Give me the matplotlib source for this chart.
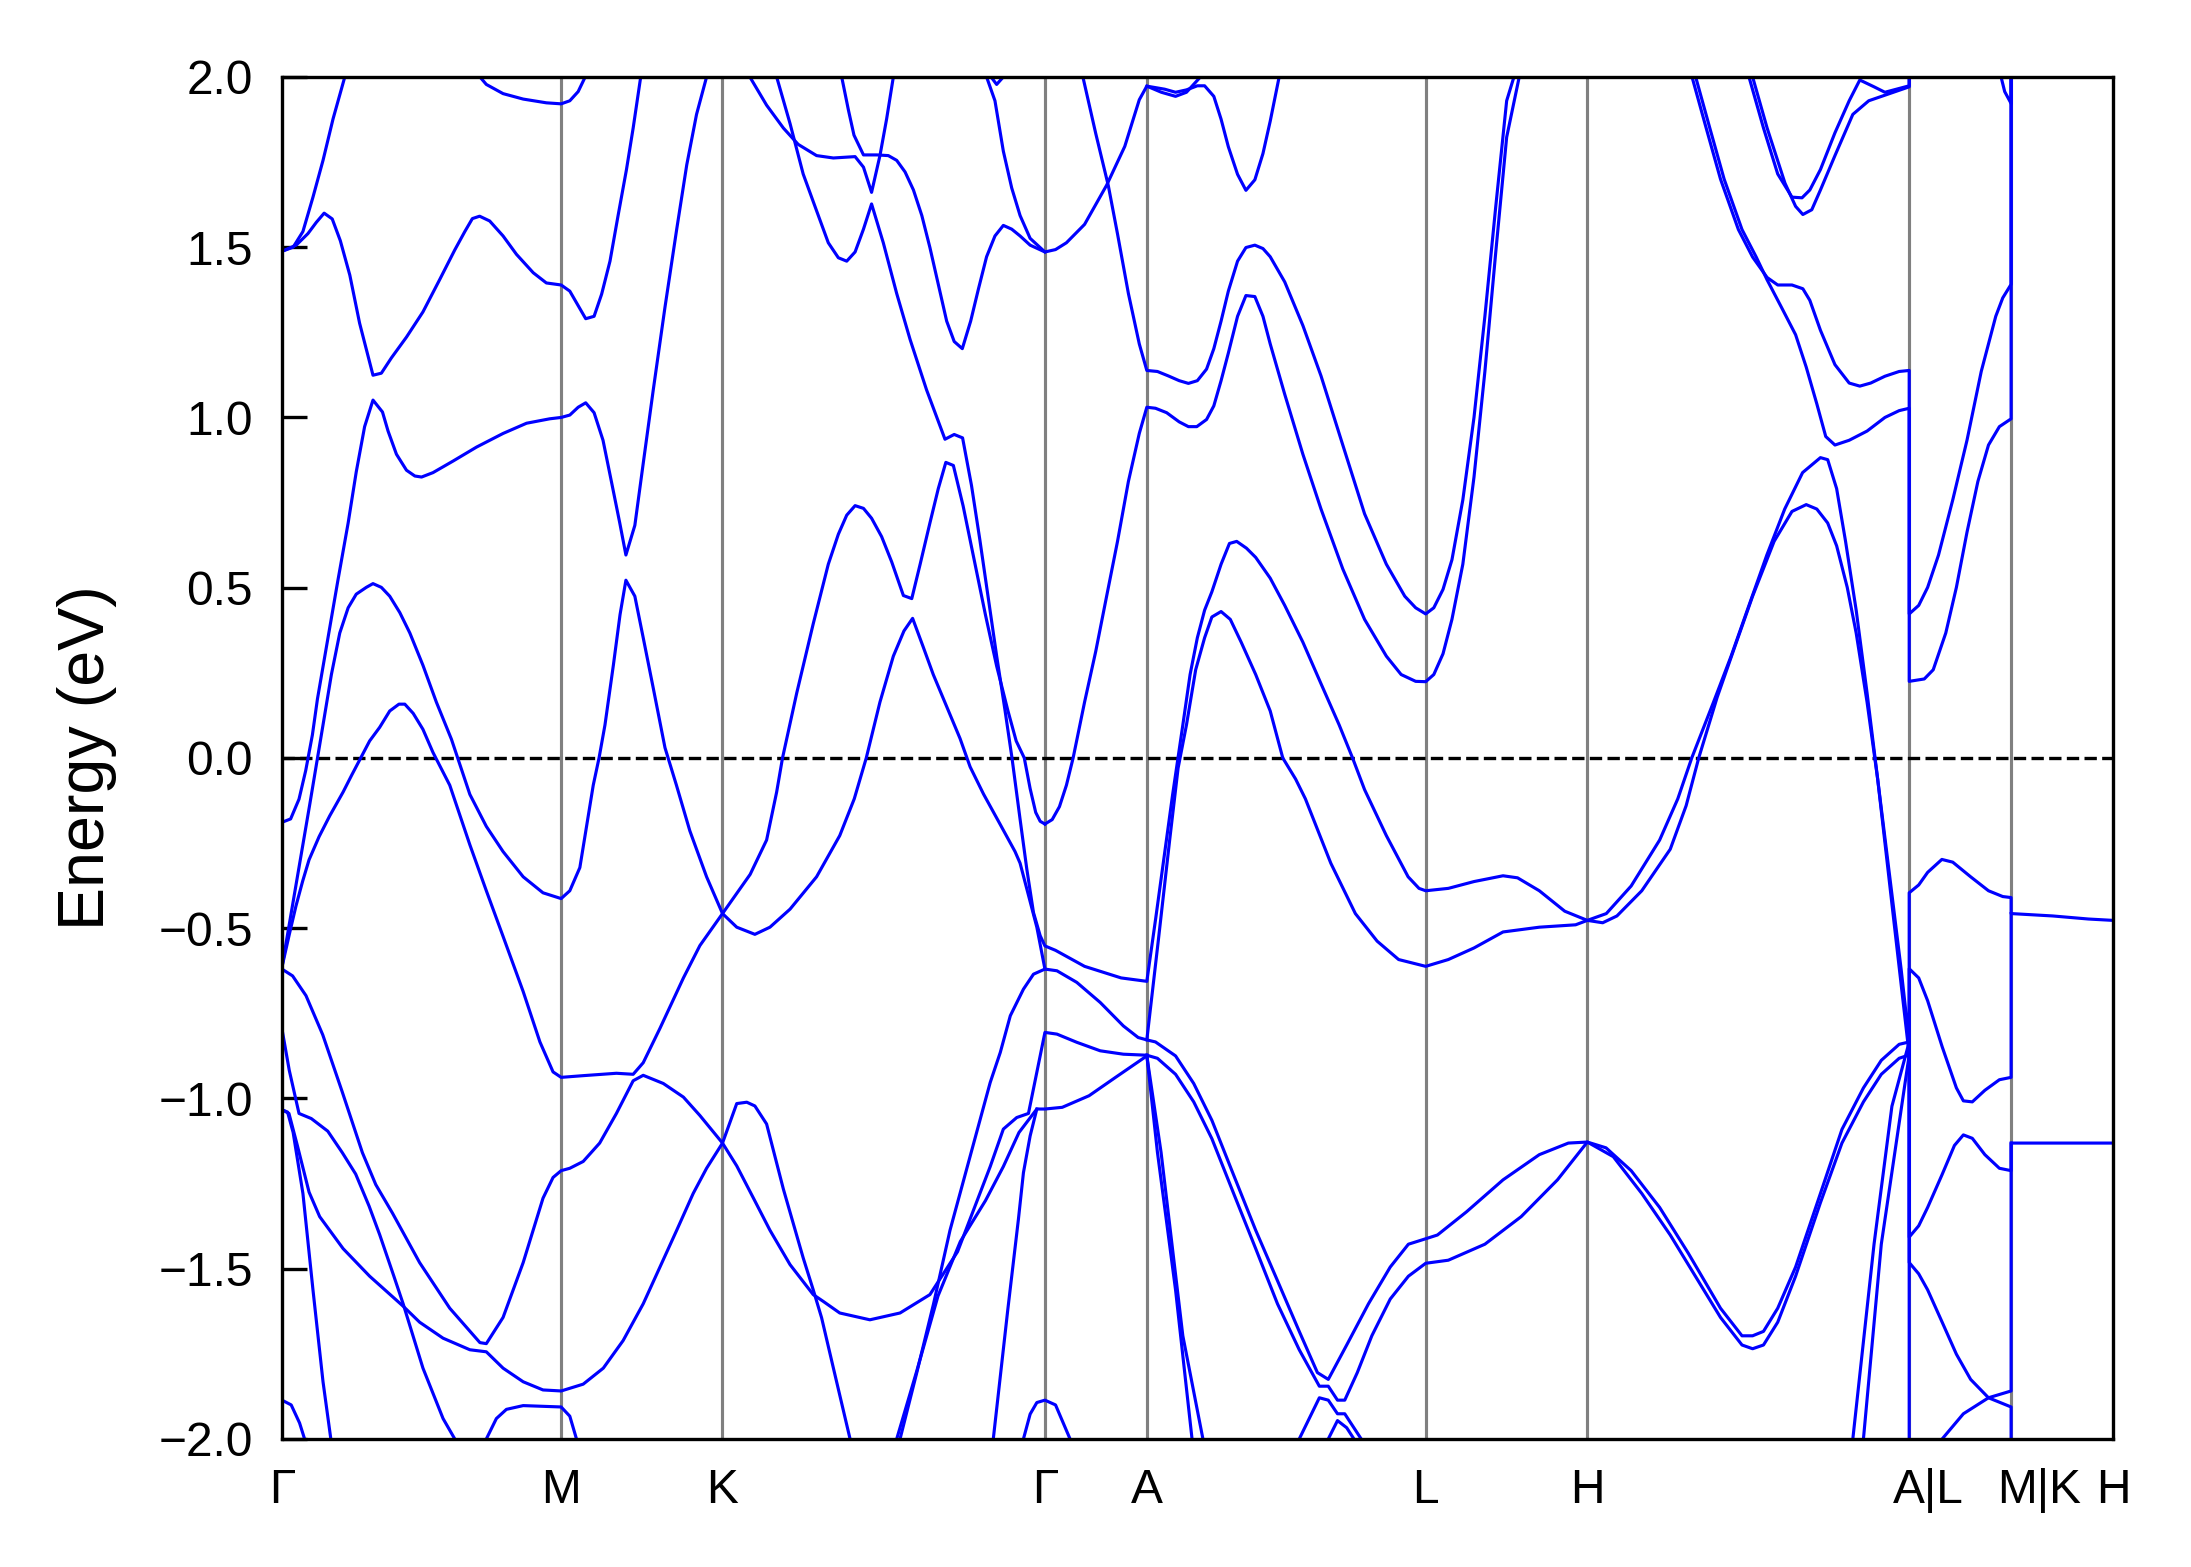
import matplotlib
matplotlib.use("Agg")
import matplotlib.pyplot as plt

plt.rcParams["font.family"] = ["Liberation Sans", "DejaVu Sans"]

# high-symmetry points along the path (Gamma-M = 1)
kpoint_pos = [0.0, 1.0, 1.578, 2.733, 3.098, 4.097, 4.676, 5.829, 6.194, 6.559]
kpoint_labels = ["Γ", "M", "K", "Γ", "A", "L", "H", "A|L", "M|K", "H"]
label_pos = [0.0, 1.0, 1.578, 2.733, 3.098, 4.097, 4.676, 5.897, 6.294, 6.559]
energy_ticks = [-2.0, -1.5, -1.0, -0.5, 0.0, 0.5, 1.0, 1.5, 2.0]

# bands, (k, E in eV)
band_01 = [(0.0, 1.488), (0.04, 1.50), (0.075, 1.546), (0.111, 1.647), (0.147, 1.755), (0.183, 1.877), (0.225, 2.0)]
band_02 = [(0.0, 1.488), (0.051, 1.506), (0.093, 1.54), (0.123, 1.573), (0.151, 1.600), (0.180, 1.583), (0.209, 1.519),
           (0.243, 1.418), (0.278, 1.277), (0.326, 1.124), (0.356, 1.130), (0.392, 1.175), (0.446, 1.236), (0.505, 1.310),
           (0.565, 1.405), (0.619, 1.492), (0.655, 1.546), (0.682, 1.584), (0.708, 1.591), (0.744, 1.577), (0.792, 1.533),
           (0.840, 1.479), (0.900, 1.425), (0.947, 1.395), (1.0, 1.389), (1.031, 1.371), (1.088, 1.290), (1.118, 1.297),
           (1.145, 1.362), (1.175, 1.459), (1.204, 1.593), (1.234, 1.728), (1.258, 1.850), (1.285, 2.0)]
band_03 = [(0.0, -0.189), (0.031, -0.179), (0.061, -0.121), (0.085, -0.037), (0.109, 0.068), (0.127, 0.173), (0.16, 0.33),
           (0.2, 0.52), (0.237, 0.69), (0.266, 0.84), (0.296, 0.973), (0.326, 1.051), (0.36, 1.016), (0.38, 0.96),
           (0.41, 0.892), (0.446, 0.845), (0.476, 0.828), (0.5, 0.825), (0.541, 0.838), (0.613, 0.872), (0.697, 0.913),
           (0.792, 0.953), (0.876, 0.983), (0.959, 0.996), (1.0, 1.0), (1.031, 1.007), (1.061, 1.03), (1.088, 1.043),
           (1.118, 1.014), (1.15, 0.933), (1.18, 0.812), (1.21, 0.69), (1.232, 0.596), (1.264, 0.683), (1.294, 0.865),
           (1.330, 1.081), (1.372, 1.324), (1.414, 1.553), (1.45, 1.742), (1.485, 1.89), (1.521, 2.0)]
band_04 = [(0.0, -0.614), (0.05, -0.374), (0.1, -0.134), (0.147, 0.097), (0.177, 0.245), (0.207, 0.367), (0.237, 0.441),
           (0.266, 0.481), (0.302, 0.501), (0.326, 0.512), (0.356, 0.501), (0.386, 0.475), (0.422, 0.427), (0.458, 0.367),
           (0.505, 0.272), (0.553, 0.164), (0.607, 0.055), (0.673, -0.107), (0.732, -0.201), (0.792, -0.275),
           (0.864, -0.349), (0.935, -0.396), (1.0, -0.413), (1.031, -0.39), (1.067, -0.322), (1.091, -0.201),
           (1.115, -0.08), (1.136, 0.001), (1.157, 0.097), (1.187, 0.272), (1.211, 0.421), (1.232, 0.522), (1.264, 0.475),
           (1.294, 0.353), (1.330, 0.205), (1.372, 0.030), (1.413, -0.08), (1.461, -0.214), (1.521, -0.349),
           (1.578, -0.457), (1.629, -0.497), (1.694, -0.518), (1.748, -0.497), (1.820, -0.444), (1.915, -0.349),
           (1.998, -0.228), (2.05, -0.12), (2.093, 0.0), (2.142, 0.164), (2.190, 0.299), (2.228, 0.373), (2.259, 0.41),
           (2.297, 0.326), (2.333, 0.245), (2.381, 0.151), (2.429, 0.057), (2.465, -0.026), (2.513, -0.106),
           (2.572, -0.194), (2.626, -0.275), (2.644, -0.309), (2.674, -0.403), (2.704, -0.497), (2.733, -0.62)]
band_05 = [(0.0, -0.614), (0.026, -0.519), (0.05, -0.435), (0.074, -0.362), (0.097, -0.299), (0.133, -0.231),
           (0.171, -0.17), (0.219, -0.1), (0.25, -0.05), (0.282, 0.0), (0.314, 0.05), (0.35, 0.09), (0.386, 0.138),
           (0.419, 0.158), (0.44, 0.158), (0.47, 0.131), (0.505, 0.084), (0.541, 0.016), (0.601, -0.08), (0.673, -0.255),
           (0.732, -0.39), (0.792, -0.524), (0.864, -0.686), (0.924, -0.834), (0.971, -0.922), (1.0, -0.938),
           (1.079, -0.933), (1.198, -0.926), (1.258, -0.929), (1.294, -0.895), (1.354, -0.794), (1.438, -0.646),
           (1.497, -0.551), (1.578, -0.457), (1.677, -0.342), (1.736, -0.241), (1.772, -0.1), (1.793, 0.0),
           (1.844, 0.191), (1.903, 0.394), (1.957, 0.569), (1.993, 0.657), (2.023, 0.713), (2.053, 0.741), (2.083, 0.733),
           (2.112, 0.704), (2.148, 0.650), (2.184, 0.576), (2.226, 0.477), (2.256, 0.468), (2.286, 0.569), (2.321, 0.690),
           (2.351, 0.791), (2.378, 0.868), (2.405, 0.859), (2.44, 0.74), (2.48, 0.58), (2.52, 0.42), (2.56, 0.27),
           (2.60, 0.14), (2.63, 0.05), (2.659, 0.0), (2.68, -0.09), (2.70, -0.16), (2.716, -0.186), (2.733, -0.194)]
band_06 = [(0.709, 2.0), (0.732, 1.978), (0.792, 1.951), (0.864, 1.935), (0.947, 1.924), (1.0, 1.921), (1.031, 1.930),
           (1.061, 1.957), (1.085, 1.998)]
band_07 = [(0.0, -0.62), (0.038, -0.640), (0.086, -0.698), (0.146, -0.813), (0.216, -0.981), (0.288, -1.159),
           (0.336, -1.253), (0.396, -1.337), (0.493, -1.482), (0.601, -1.616), (0.709, -1.717), (0.732, -1.72),
           (0.792, -1.643), (0.864, -1.482), (0.935, -1.293), (0.971, -1.232), (1.0, -1.212), (1.031, -1.205),
           (1.079, -1.185), (1.138, -1.131), (1.198, -1.044), (1.258, -0.948), (1.294, -0.932), (1.366, -0.956),
           (1.438, -0.996), (1.497, -1.050), (1.578, -1.131), (1.629, -1.015), (1.665, -1.011), (1.694, -1.022),
           (1.736, -1.075), (1.796, -1.266), (1.867, -1.468), (1.903, -1.562), (1.933, -1.644), (1.975, -1.791),
           (2.035, -2.0)]
band_08 = [(0.0, -0.796), (0.026, -0.917), (0.061, -1.044), (0.105, -1.059), (0.164, -1.096), (0.216, -1.159),
           (0.264, -1.222), (0.312, -1.316), (0.35, -1.40), (0.40, -1.52), (0.434, -1.603), (0.505, -1.792),
           (0.577, -1.940), (0.619, -2.0)]
band_09 = [(0.0, -1.033), (0.02, -1.04), (0.04, -1.1), (0.075, -1.279), (0.111, -1.562), (0.147, -1.832), (0.175, -2.0)]
band_10 = [(0.0, -1.033), (0.025, -1.044), (0.055, -1.138), (0.097, -1.275), (0.135, -1.347), (0.219, -1.441),
           (0.314, -1.522), (0.434, -1.610), (0.493, -1.657), (0.577, -1.704), (0.673, -1.738), (0.732, -1.744),
           (0.792, -1.792), (0.864, -1.832), (0.935, -1.856), (1.0, -1.859), (1.079, -1.839), (1.151, -1.792),
           (1.222, -1.711), (1.294, -1.603), (1.354, -1.495), (1.414, -1.387), (1.473, -1.279), (1.521, -1.205),
           (1.578, -1.131), (1.629, -1.198), (1.689, -1.293), (1.748, -1.387), (1.820, -1.488), (1.903, -1.576),
           (1.939, -1.596), (1.998, -1.630), (2.106, -1.650), (2.214, -1.630), (2.321, -1.576), (2.42, -1.45),
           (2.537, -1.20), (2.584, -1.09), (2.632, -1.056), (2.674, -1.044), (2.733, -0.806), (2.776, -0.811),
           (2.847, -0.835), (2.931, -0.860), (3.014, -0.870), (3.098, -0.873)]
band_11 = [(0.0, -1.886), (0.033, -1.9), (0.063, -1.953), (0.081, -2.0)]
band_12 = [(0.732, -2.0), (0.768, -1.94), (0.804, -1.913), (0.864, -1.902), (1.0, -1.906), (1.031, -1.933), (1.055, -2.0)]
band_13 = [(1.676, 2.0), (1.736, 1.917), (1.796, 1.85), (1.849, 1.802), (1.915, 1.769), (1.975, 1.762), (2.053, 1.766),
           (2.083, 1.735), (2.112, 1.661), (2.142, 1.769), (2.166, 1.877), (2.190, 2.0)]
band_14 = [(2.005, 2.0), (2.029, 1.903), (2.049, 1.829), (2.083, 1.771), (2.131, 1.771), (2.172, 1.769), (2.202, 1.755),
           (2.232, 1.721), (2.262, 1.668), (2.292, 1.593), (2.321, 1.499), (2.351, 1.391), (2.381, 1.283), (2.408, 1.223),
           (2.437, 1.202), (2.467, 1.283), (2.495, 1.378), (2.524, 1.472), (2.554, 1.533), (2.584, 1.564), (2.614, 1.553),
           (2.644, 1.533), (2.680, 1.506), (2.733, 1.486), (2.771, 1.493), (2.810, 1.513), (2.875, 1.567), (2.954, 1.682),
           (3.019, 1.796), (3.071, 1.933), (3.098, 1.973), (3.162, 1.964), (3.201, 1.955), (3.240, 1.962), (3.279, 1.974),
           (3.305, 1.974), (3.338, 1.943), (3.364, 1.876), (3.390, 1.795), (3.423, 1.714), (3.453, 1.667), (3.485, 1.698),
           (3.514, 1.775), (3.540, 1.870), (3.572, 2.0)]
band_15 = [(1.772, 2.0), (1.820, 1.863), (1.867, 1.715), (1.915, 1.607), (1.957, 1.513), (1.993, 1.469), (2.023, 1.459),
           (2.053, 1.486), (2.083, 1.553), (2.112, 1.627), (2.154, 1.513), (2.202, 1.364), (2.250, 1.229), (2.309, 1.081),
           (2.375, 0.936), (2.408, 0.950), (2.438, 0.940), (2.470, 0.80), (2.50, 0.64), (2.53, 0.47), (2.56, 0.30),
           (2.59, 0.14), (2.615, 0.0), (2.644, -0.18), (2.668, -0.326), (2.692, -0.454),
           (2.716, -0.522), (2.733, -0.552), (2.771, -0.565), (2.875, -0.612), (3.006, -0.646), (3.098, -0.656),
           (3.13, -0.47), (3.16, -0.29), (3.19, -0.11), (3.227, 0.097), (3.253, 0.245), (3.279, 0.353), (3.305, 0.434),
           (3.331, 0.488), (3.364, 0.569), (3.394, 0.630), (3.420, 0.636), (3.455, 0.616), (3.488, 0.589), (3.540, 0.528),
           (3.592, 0.448), (3.657, 0.340), (3.722, 0.218), (3.787, 0.097), (3.835, 0.0), (3.878, -0.093),
           (3.956, -0.228), (4.034, -0.349), (4.073, -0.383), (4.097, -0.390), (4.178, -0.383), (4.270, -0.363),
           (4.374, -0.346), (4.426, -0.352), (4.504, -0.39), (4.595, -0.45), (4.676, -0.477), (4.744, -0.457),
           (4.833, -0.376), (4.935, -0.241), (5.0, -0.12), (5.05, 0.0), (5.128, 0.164), (5.191, 0.299), (5.255, 0.448),
           (5.319, 0.596), (5.383, 0.731), (5.447, 0.838), (5.511, 0.882), (5.537, 0.876), (5.569, 0.791),
           (5.601, 0.636), (5.639, 0.434), (5.678, 0.191), (5.716, -0.062), (5.767, -0.40), (5.80, -0.62),
           (5.829, -0.834), (5.829, -0.396), (5.863, -0.373), (5.895, -0.336), (5.946, -0.298), (5.985, -0.306),
           (6.049, -0.349), (6.113, -0.39), (6.164, -0.407), (6.194, -0.410), (6.194, -0.457), (6.343, -0.464),
           (6.471, -0.473), (6.559, -0.477)]
band_16 = [(2.524, 2.0), (2.554, 1.93), (2.584, 1.782), (2.614, 1.674), (2.644, 1.593), (2.680, 1.526), (2.733, 1.486)]
band_17 = [(2.540, 2.0), (2.560, 1.978), (2.584, 2.0)]
band_18 = [(2.214, -2.0), (2.274, -1.805), (2.334, -1.603), (2.393, -1.387), (2.465, -1.17), (2.537, -0.953),
           (2.573, -0.865), (2.609, -0.757), (2.656, -0.679), (2.692, -0.635), (2.733, -0.620), (2.776, -0.625),
           (2.847, -0.659), (2.931, -0.718), (3.014, -0.787), (3.067, -0.821), (3.098, -0.828), (3.14, -0.53),
           (3.18, -0.24), (3.21, -0.03), (3.240, 0.097), (3.273, 0.259), (3.305, 0.353), (3.331, 0.414), (3.364, 0.430),
           (3.397, 0.407), (3.436, 0.340), (3.488, 0.245), (3.540, 0.138), (3.585, 0.0), (3.631, -0.062),
           (3.666, -0.12), (3.757, -0.309), (3.845, -0.457), (3.923, -0.538), (4.0, -0.592), (4.097, -0.612),
           (4.178, -0.592), (4.270, -0.558), (4.374, -0.511), (4.504, -0.497), (4.634, -0.49), (4.676, -0.477),
           (4.731, -0.484), (4.782, -0.464), (4.871, -0.39), (4.973, -0.268), (5.03, -0.14), (5.075, 0.0),
           (5.141, 0.178), (5.204, 0.326), (5.268, 0.475), (5.345, 0.636), (5.409, 0.724), (5.460, 0.744),
           (5.498, 0.731), (5.537, 0.690), (5.569, 0.623), (5.607, 0.501), (5.639, 0.367), (5.678, 0.164),
           (5.716, -0.062), (5.77, -0.45), (5.829, -0.872), (5.829, -0.619), (5.863, -0.646), (5.895, -0.713),
           (5.947, -0.848), (5.998, -0.969), (6.023, -1.007), (6.055, -1.010), (6.100, -0.976), (6.152, -0.945),
           (6.194, -0.938), (6.194, -0.457)]
band_19 = [(2.202, -2.0), (2.274, -1.80), (2.35, -1.58), (2.43, -1.42), (2.52, -1.30), (2.584, -1.20), (2.64, -1.10),
           (2.704, -1.031), (2.733, -1.031), (2.795, -1.026), (2.891, -0.992), (2.986, -0.938), (3.098, -0.875)]
band_20 = [(2.548, -2.0), (2.60, -1.62), (2.638, -1.355), (2.656, -1.218), (2.680, -1.11), (2.704, -1.031)]
band_21 = [(2.656, -2.0), (2.680, -1.927), (2.704, -1.893), (2.733, -1.886), (2.771, -1.90), (2.823, -2.0)]
band_22 = [(2.869, 2.0), (2.915, 1.834), (2.960, 1.681), (2.993, 1.539), (3.032, 1.364), (3.071, 1.216), (3.098, 1.138),
           (3.136, 1.135), (3.175, 1.122), (3.214, 1.108), (3.247, 1.100), (3.279, 1.108), (3.312, 1.142), (3.338, 1.202),
           (3.364, 1.283), (3.390, 1.371), (3.423, 1.459), (3.453, 1.499), (3.485, 1.506), (3.514, 1.496), (3.540, 1.472),
           (3.592, 1.398), (3.657, 1.270), (3.722, 1.122), (3.800, 0.919), (3.878, 0.717), (3.956, 0.569), (4.022, 0.475),
           (4.061, 0.441), (4.097, 0.423), (4.126, 0.441), (4.159, 0.495), (4.191, 0.582), (4.230, 0.758), (4.270, 1.0),
           (4.309, 1.297), (4.348, 1.620), (4.387, 1.930), (4.413, 2.0)]
band_23 = [(2.733, -0.194), (2.759, -0.181), (2.785, -0.143), (2.81, -0.08), (2.834, 0.0), (2.875, 0.164),
           (2.915, 0.313), (2.954, 0.475), (2.993, 0.636), (3.032, 0.812), (3.071, 0.953), (3.098, 1.030), (3.129, 1.027),
           (3.169, 1.014), (3.214, 0.987), (3.247, 0.973), (3.277, 0.973), (3.312, 0.994), (3.338, 1.034), (3.364, 1.108),
           (3.390, 1.189), (3.423, 1.297), (3.453, 1.358), (3.485, 1.355), (3.514, 1.297), (3.540, 1.216), (3.592, 1.068),
           (3.657, 0.892), (3.722, 0.731), (3.800, 0.555), (3.878, 0.407), (3.956, 0.299), (4.009, 0.245), (4.061, 0.225),
           (4.097, 0.224), (4.126, 0.245), (4.159, 0.306), (4.191, 0.407), (4.230, 0.569), (4.270, 0.825), (4.309, 1.135),
           (4.348, 1.486), (4.387, 1.823), (4.432, 2.0)]
band_24 = [(3.098, 1.973), (3.15, 1.955), (3.201, 1.943), (3.24, 1.955), (3.279, 1.99), (3.29, 2.0)]
band_25 = [(3.098, -0.828), (3.129, -0.834), (3.201, -0.875), (3.266, -0.956), (3.331, -1.064), (3.409, -1.225),
           (3.488, -1.387), (3.566, -1.535), (3.644, -1.684), (3.709, -1.805), (3.748, -1.825), (3.814, -1.724),
           (3.892, -1.603), (3.970, -1.495), (4.035, -1.428), (4.097, -1.412), (4.139, -1.401), (4.243, -1.333),
           (4.374, -1.239), (4.504, -1.165), (4.608, -1.131), (4.676, -1.128), (4.743, -1.145), (4.833, -1.212),
           (4.935, -1.320), (5.038, -1.455), (5.153, -1.616), (5.230, -1.697), (5.268, -1.697), (5.307, -1.684),
           (5.358, -1.616), (5.422, -1.495), (5.511, -1.279), (5.588, -1.091), (5.665, -0.969), (5.729, -0.888),
           (5.793, -0.841), (5.829, -0.834), (5.829, -1.407), (5.863, -1.374), (5.895, -1.320), (5.946, -1.225),
           (5.991, -1.138), (6.023, -1.107), (6.055, -1.117), (6.100, -1.165), (6.152, -1.205), (6.194, -1.212),
           (6.194, -1.131), (6.559, -1.131)]
band_26 = [(3.098, -0.873), (3.136, -0.882), (3.201, -0.929), (3.266, -1.010), (3.331, -1.118), (3.409, -1.279),
           (3.488, -1.441), (3.566, -1.603), (3.644, -1.738), (3.716, -1.845), (3.748, -1.845), (3.781, -1.886),
           (3.807, -1.886), (3.852, -1.805), (3.904, -1.697), (3.970, -1.589), (4.035, -1.522), (4.097, -1.484),
           (4.178, -1.475), (4.309, -1.428), (4.439, -1.347), (4.569, -1.239), (4.676, -1.128), (4.769, -1.171),
           (4.871, -1.279), (4.973, -1.401), (5.063, -1.522), (5.153, -1.643), (5.230, -1.724), (5.268, -1.735),
           (5.307, -1.724), (5.358, -1.657), (5.422, -1.522), (5.511, -1.306), (5.588, -1.131), (5.665, -1.010),
           (5.729, -0.929), (5.793, -0.882), (5.829, -0.872), (5.829, -1.482), (5.863, -1.515), (5.895, -1.562),
           (5.947, -1.657), (5.998, -1.751), (6.049, -1.825), (6.113, -1.879), (6.194, -1.906), (6.194, -2.3)]
band_27 = [(3.098, -0.873), (3.136, -1.158), (3.201, -1.563), (3.260, -2.0)]
band_28 = [(3.098, -0.875), (3.149, -1.158), (3.227, -1.697), (3.299, -2.0)]
band_29 = [(3.644, -2.0), (3.716, -1.879), (3.748, -1.886), (3.781, -1.926), (3.807, -1.926), (3.866, -2.0)]
band_30 = [(3.748, -2.0), (3.781, -1.946), (3.814, -1.967), (3.840, -2.0)]
band_31 = [(5.051, 2.0), (5.102, 1.849), (5.153, 1.700), (5.217, 1.552), (5.268, 1.471), (5.320, 1.411), (5.358, 1.389),
           (5.409, 1.389), (5.448, 1.378), (5.473, 1.344), (5.511, 1.256), (5.563, 1.155), (5.614, 1.101), (5.652, 1.092),
           (5.691, 1.101), (5.742, 1.121), (5.793, 1.135), (5.829, 1.138), (5.829, 0.423), (5.863, 0.448), (5.895, 0.501),
           (5.934, 0.596), (5.985, 0.758), (6.036, 0.933), (6.087, 1.135), (6.139, 1.297), (6.164, 1.351),
           (6.194, 1.391), (6.194, 2.3)]
band_32 = [(5.064, 2.0), (5.115, 1.849), (5.166, 1.700), (5.230, 1.552), (5.281, 1.471), (5.320, 1.404), (5.371, 1.324),
           (5.422, 1.243), (5.460, 1.148), (5.498, 1.040), (5.530, 0.944), (5.563, 0.919), (5.614, 0.933), (5.678, 0.960),
           (5.742, 1.0), (5.793, 1.020), (5.829, 1.027), (5.829, 0.225), (5.883, 0.232), (5.915, 0.259), (5.960, 0.367),
           (5.998, 0.501), (6.036, 0.663), (6.075, 0.812), (6.113, 0.919), (6.152, 0.973), (6.194, 0.996), (6.194, 2.3)]
band_33 = [(5.255, 2.0), (5.307, 1.850), (5.358, 1.715), (5.409, 1.647), (5.445, 1.645), (5.473, 1.668), (5.511, 1.728),
           (5.563, 1.836), (5.614, 1.930), (5.652, 1.991), (5.703, 1.971), (5.742, 1.955), (5.829, 1.974), (5.829, 2.3)]
band_34 = [(5.268, 2.0), (5.320, 1.850), (5.384, 1.688), (5.422, 1.620), (5.448, 1.596), (5.480, 1.610), (5.511, 1.668),
           (5.563, 1.769), (5.627, 1.890), (5.684, 1.930), (5.829, 1.971), (5.829, 2.3)]
band_35 = [(5.627, -2.0), (5.703, -1.428), (5.767, -1.023), (5.829, -0.834), (5.829, -2.3)]
band_36 = [(5.665, -2.0), (5.729, -1.428), (5.829, -0.872)]
band_37 = [(5.947, -2.0), (6.023, -1.926), (6.113, -1.879), (6.194, -1.859), (6.194, -1.131)]
band_38 = [(6.158, 2.0), (6.171, 1.957), (6.194, 1.922), (6.194, 2.3)]

bands = [band_01, band_02, band_03, band_04, band_05, band_06, band_07, band_08, band_09, band_10,
         band_11, band_12, band_13, band_14, band_15, band_16, band_17, band_18, band_19, band_20,
         band_21, band_22, band_23, band_24, band_25, band_26, band_27, band_28, band_29, band_30,
         band_31, band_32, band_33, band_34, band_35, band_36, band_37, band_38]

fig = plt.figure(figsize=(2191 / 300, 1567 / 300), dpi=300)
ax = fig.add_axes([0.1287, 0.0817, 0.8357, 0.8692])

# high-symmetry lines and Fermi level
for kp in kpoint_pos[1:-1]:
    ax.axvline(kp, color="gray", lw=0.75, zorder=1)
ax.axhline(0.0, color="black", ls="--", lw=0.8, zorder=1)

for band in bands:
    ks = [p[0] for p in band]
    es = [p[1] for p in band]
    ax.plot(ks, es, color="blue", lw=0.75, zorder=2)

ax.set_xlim(kpoint_pos[0], kpoint_pos[-1])
ax.set_ylim(-2.0, 2.0)
ax.set_xticks(label_pos)
ax.set_xticklabels(kpoint_labels)
ax.set_yticks(energy_ticks)
ax.tick_params(axis="x", length=0, pad=7, labelsize=11.5)
ax.tick_params(axis="y", direction="in", length=6, width=0.8, pad=7, labelsize=11.5)
ax.set_ylabel("Energy (eV)", fontsize=15.5, labelpad=10)
for sp in ax.spines.values():
    sp.set_linewidth(0.8)

fig.savefig("out.png", dpi=300)
